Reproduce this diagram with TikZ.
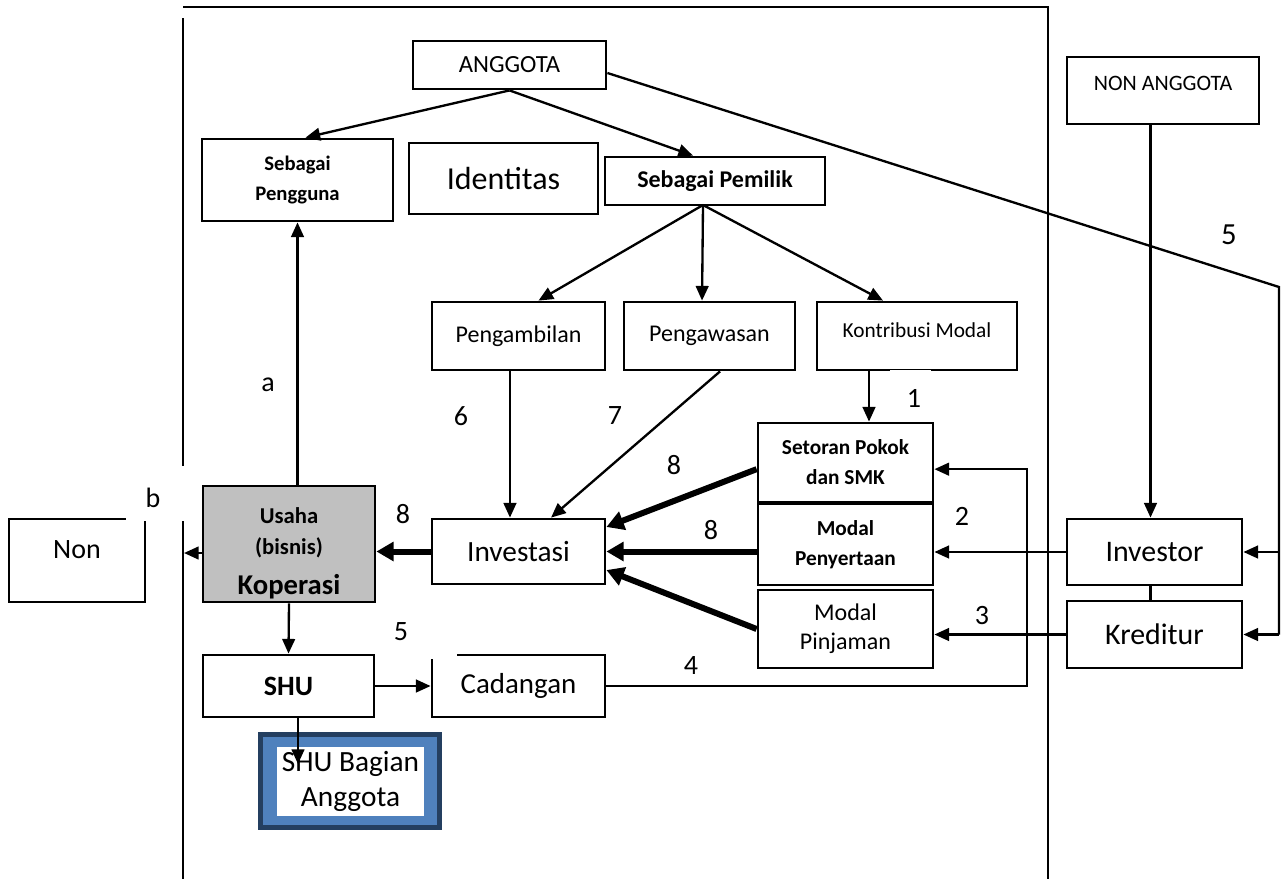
\documentclass[tikz,border=0pt]{standalone}
\usepackage{fontspec}
\setmainfont{Carlito}
\usetikzlibrary{arrows.meta}
\definecolor{usgray}{HTML}{C0C0C0}
\definecolor{bnavy}{HTML}{243F60}
\definecolor{bblue}{HTML}{4F81BD}
\newcommand\fz[2]{\fontsize{#1pt}{#2pt}\selectfont}
\tikzset{
  box/.style={draw=black, line width=2.1pt, fill=white, inner sep=0pt, align=center},
  conn/.style={line width=1.75pt, -{Triangle[length=11pt,width=9.5pt]}},
  fat/.style={line width=4.5pt, -{Triangle[length=13pt,width=14pt]}},
  plain/.style={line width=1.75pt},
  lbl/.style={font=\fz{21}{22}, inner sep=0pt},
}
\newcommand\bx[7]{\node[box,#6,minimum width={0.75pt*(#4-#2)},minimum height={0.75pt*(#5-#3)}] (#1) at ({(#2+#4)/2},{(#3+#5)/2}) {#7};}
\begin{document}
\begin{tikzpicture}[x=0.75pt,y=-0.75pt]
\useasboundingbox (0,0) rectangle (1288,879);
% frame
\draw[plain] (183,7) -- (1048,7) -- (1048,879);
\draw[plain] (183,18) -- (183,879);
% boxes
\bx{anggota}{413}{41}{606}{89}{font=\fz{18.5}{20}}{ANGGOTA}
\bx{pengguna}{202}{139}{393}{221}{font=\bfseries\fz{15.5}{22.5}}{Sebagai\\Pengguna}
\bx{identitas}{409}{143}{598}{214}{font=\fz{24}{28}}{Identitas}
\bx{pemilik}{605}{157}{825}{205}{font=\bfseries\fz{18}{20}}{Sebagai Pemilik}
\bx{pengambilan}{432}{302}{605}{370}{font=\fz{18}{20}}{Pengambilan}
\bx{pengawasan}{624}{302}{795}{370}{font=\fz{18}{20}}{Pengawasan}
\bx{kontribusi}{817}{302}{1017}{370}{}{}
\node[font=\fz{16}{20}, inner sep=0pt] (kontribusiT) at (917,330) {Kontribusi Modal};
\bx{setoran}{758}{423}{933}{502}{font=\bfseries\fz{16}{22.5}}{Setoran Pokok\\dan SMK}
\bx{penyertaan}{758}{504}{933}{585}{font=\bfseries\fz{16}{22.5}}{Modal\\Penyertaan}
\bx{pinjaman}{758}{590}{933}{668}{font=\fz{18}{21.5}}{Modal\\Pinjaman}
\bx{investasi}{432}{519}{605}{584}{font=\fz{22}{24}}{Investasi}
\bx{usaha}{203}{486}{375}{602}{fill=usgray}{}
\begin{scope}
\clip (204,487) rectangle (374,600);
\node[font=\bfseries\fz{17}{20}, inner sep=0pt] (usahaA) at (289,516) {Usaha};
\node[font=\bfseries\fz{17}{20}, inner sep=0pt] (usahaB) at (289,548) {(bisnis)};
\node[font=\bfseries\fz{21.5}{20}, inner sep=0pt] (usahaC) at (289,587) {Koperasi};
\end{scope}
\bx{non}{9}{519}{145}{602}{}{}
\node[font=\fz{21}{24}, inner sep=0pt] (nonT) at (77,550) {Non};
\bx{shu}{203}{655}{374}{717}{font=\bfseries\fz{21}{20}}{SHU}
\bx{cadangan}{432}{655}{605}{717}{font=\fz{21.7}{24}}{Cadangan}
\bx{investor}{1067}{519}{1242}{585}{font=\fz{22.4}{24}}{Investor}
\bx{kreditur}{1067}{601}{1242}{668}{font=\fz{22.4}{24}}{Kreditur}
\bx{nonang}{1067}{57}{1259}{124}{}{}
\node[font=\fz{16.5}{20}, inner sep=0pt] (nonangT) at (1163,83) {NON ANGGOTA};
% SHU bagian anggota
\fill[bnavy] (258,732) rectangle (442,830);
\fill[bblue] (263,737) rectangle (437,825);
\node[fill=white, inner sep=0pt, align=center, minimum width={0.75pt*147}, minimum height={0.75pt*69}, font=\fz{22}{26}] (bagian) at (350.5,781.5) {SHU Bagian\\Anggota};
% coordinates
\coordinate (rc) at (1279,287);
\coordinate (pb) at (703,205);
\coordinate (fl) at (184,553);
\coordinate (bt) at (298,764);
\coordinate (lp) at (1027,685);
\coordinate (st) at ([yshift=-5pt]setoran.east);
\coordinate (lt) at (lp |- st);
% connectors
\draw[conn] (anggota.south) -- ([xshift=6pt]pengguna.north);
\draw[conn] (anggota.south) -- ([xshift=-16.5pt]pemilik.north);
\draw[plain] ([yshift=-6pt]anggota.east) -- (rc) -- (rc |- kreditur.east);
\draw[conn] (rc |- investor.east) -- (investor.east);
\draw[conn] (rc |- kreditur.east) -- (kreditur.east);
\draw[conn] ([xshift=-3pt]nonang.south -| investor.north) -- ([xshift=-3pt]investor.north);
\draw[plain] ([xshift=-3pt]investor.south) -- ([xshift=-3pt]kreditur.north);
\draw[conn] (pb) -- ([xshift=15pt]pengambilan.north);
\draw[conn] (pb) -- ([xshift=-5.6pt]pengawasan.north);
\draw[conn] (pb) -- ([xshift=-25.5pt]kontribusi.north);
\draw[conn] ([xshift=-6.4pt]pengambilan.south) -- ([xshift=-6.4pt]pengambilan.south |- investasi.north);
\draw[conn] ([xshift=7.9pt]pengawasan.south) -- ([xshift=24.4pt]investasi.north);
\draw[conn] ([xshift=-36pt]kontribusi.south) -- ([xshift=-36pt]kontribusi.south |- setoran.north);
\draw[fat] ([yshift=-5pt]setoran.west) -- ([yshift=18.4pt]investasi.east);
\draw[fat] (penyertaan.west |- investasi.east) -- (investasi.east);
\draw[fat] (pinjaman.west) -- ([yshift=-13.9pt]investasi.east);
\draw[fat] (investasi.west) -- (usaha.east |- investasi.west);
\draw[conn] (usaha.west |- fl) -- (fl);
\draw[conn] (pengguna.south |- usaha.north) -- (pengguna.south);
\draw[conn] (usaha.south) -- (shu.north);
\draw[conn] (shu.east) -- (cadangan.west);
\draw[conn] (shu.south -| bt) -- (bt);
\draw[conn] (cadangan.east) -| (lt) -- (st);
\draw[conn] (investor.west) -- (penyertaan.east |- investor.west);
\draw[conn] (kreditur.west) -- (pinjaman.east |- kreditur.west);
% white gaps behind labels
\fill[white] (126,466) rectangle (190,520.5);
\fill[white] (375.8,612) rectangle (457,659);
\fill[white] (663,645) rectangle (722,684.5);
\fill[white] (934.8,506) rectangle (990,537);
\fill[white] (890,369.5) rectangle (931,410);
% labels
\node[lbl, font=\fz{23}{24}] (l5a) at (1229,235) {5};
\node[lbl] (la) at (268,385) {a};
\node[lbl] (l6) at (461,416) {6};
\node[lbl] (l7) at (615,416) {7};
\node[lbl] (l8a) at (674,465) {8};
\node[lbl] (l1) at (914,398) {1};
\node[lbl] (l2) at (962,516) {2};
\node[lbl] (l8b) at (711,530) {8};
\node[lbl] (l3) at (982,615) {3};
\node[lbl] (l4) at (691,665) {4};
\node[lbl] (l5b) at (401,632) {5};
\node[lbl] (l8c) at (403,514) {8};
\node[lbl] (lb) at (153,498) {b};
\end{tikzpicture}
\end{document}
